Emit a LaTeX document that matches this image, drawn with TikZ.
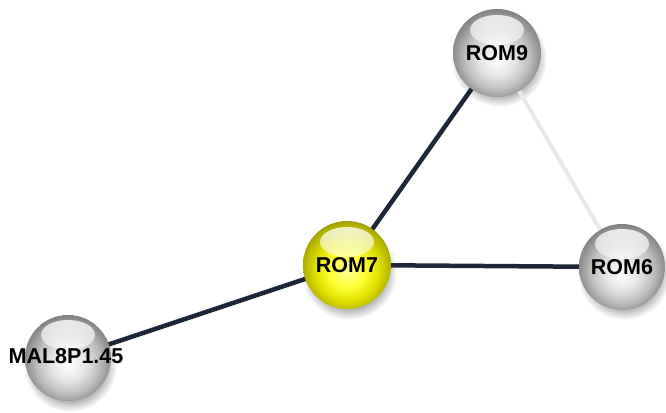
\documentclass[tikz,border=0pt]{standalone}
\usepackage{fontspec}
\setmainfont{Liberation Sans}
\usetikzlibrary{fadings}
\definecolor{edgenavy}{HTML}{1E273A}
\definecolor{edgelight}{HTML}{E8E8E8}
\pgfdeclareradialshading{graysphere}{\pgfpoint{0bp}{-4bp}}{%
  color(0bp)=(white);
  color(10bp)=(white!90!black);
  color(18bp)=(white!75!black);
  color(24bp)=(white!58!black);
  color(27bp)=(white!50!black);
  color(50bp)=(white!50!black)}
\pgfdeclareradialshading{yellowsphere}{\pgfpoint{0bp}{-4bp}}{%
  color(0bp)=(yellow!40!white);
  color(10bp)=(yellow!80!white);
  color(18bp)=(yellow!88!black);
  color(24bp)=(yellow!72!black);
  color(27bp)=(yellow!62!black);
  color(50bp)=(yellow!62!black)}
\pgfdeclareradialshading{softshadow}{\pgfpoint{0bp}{0bp}}{%
  color(0bp)=(black!45);
  color(18bp)=(black!35);
  color(25bp)=(white);
  color(50bp)=(white)}
\tikzset{
  sphere/.style={circle, minimum size=88pt, inner sep=0pt,
    path picture={\fill[white, opacity=.85, path fading=south]
      ([yshift=23pt]path picture bounding box.center) ellipse (27pt and 15pt);}},
  graysph/.style={sphere, shading=graysphere},
  yellowsph/.style={sphere, shading=yellowsphere},
  lab/.style={font=\fontsize{21.5}{24}\selectfont\bfseries, text=black, inner sep=0pt},
  shadowc/.style={shading=softshadow},
  darkedge/.style={draw=edgenavy, line width=4.5pt},
  lightedge/.style={draw=edgelight, line width=4pt}
}
\begin{document}
\begin{tikzpicture}[x=1pt, y=-1pt]
\useasboundingbox (0,0) rectangle (666,412);
% shadows
\shade[shadowc] (499,59) circle (48);
\shade[shadowc] (349,272) circle (48);
\shade[shadowc] (624,273) circle (47);
\shade[shadowc] (70,365) circle (47);
% coordinates of centres
\coordinate (c9) at (497,53);
\coordinate (c7) at (347,265);
\coordinate (c6) at (622,267);
\coordinate (cm) at (68,358);
% edges
\draw[lightedge] (c9) -- (c6);
\draw[darkedge] (c9) -- (c7);
\draw[darkedge] (c7) -- (c6);
\draw[darkedge] (c7) -- (cm);
% nodes
\node[graysph, label={[lab]center:ROM9}] (rom9) at (c9) {};
\node[yellowsph, label={[lab]center:ROM7}] (rom7) at (c7) {};
\node[graysph, minimum size=86pt, label={[lab]center:ROM6}] (rom6) at (c6) {};
\node[graysph, minimum size=86pt, label={[lab, xshift=-2pt, yshift=2pt]center:MAL8P1.45}] (mal) at (cm) {};
\end{tikzpicture}
\end{document}
